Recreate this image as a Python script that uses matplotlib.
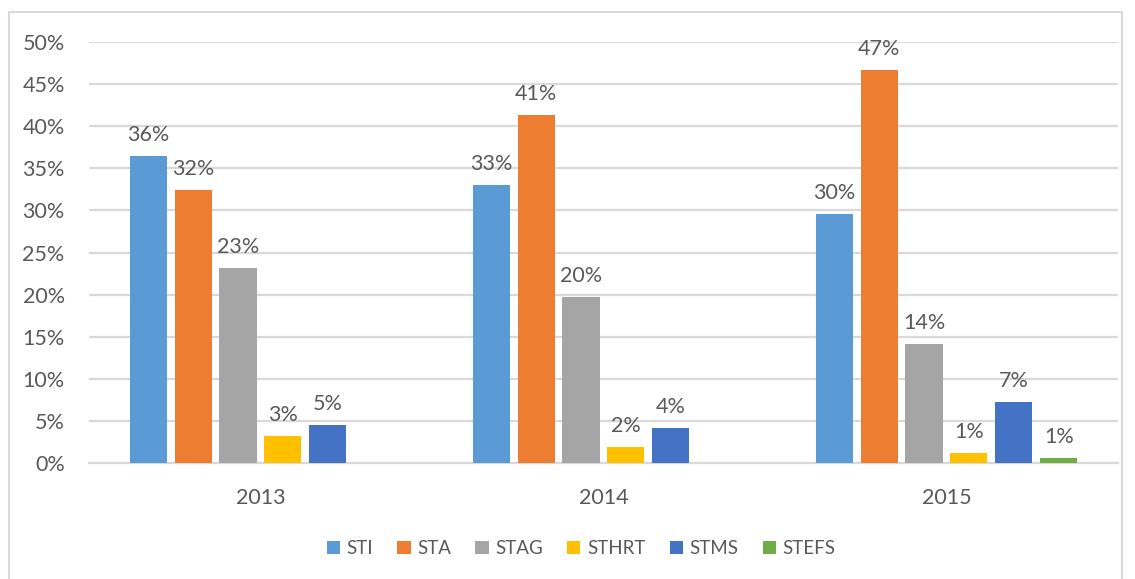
import numpy as np
import matplotlib.pyplot as plt
from matplotlib.patches import Rectangle

plt.rcParams["font.family"] = ["Lato", "DejaVu Sans"]

years = ["2013", "2014", "2015"]
series = ["STI", "STA", "STAG", "STHRT", "STMS", "STEFS"]
sti = [36.4, 33.0, 29.6]
sta = [32.4, 41.3, 46.6]
stag = [23.2, 19.7, 14.2]
sthrt = [3.3, 1.9, 1.3]
stms = [4.6, 4.2, 7.3]
stefs = [0.0, 0.0, 0.7]
colors = ["#5B9BD5", "#ED7D31", "#A5A5A5", "#FFC000", "#4472C4", "#70AD47"]

values = [sti, sta, stag, sthrt, stms, stefs]
text_color = "#595959"
grid_color = "#D9D9D9"

fig = plt.figure(figsize=(11.35, 5.79), dpi=100)
ax = fig.add_axes([0.0784, 0.1995, 0.9066, 0.7285])

x = np.arange(len(years))
step = 0.131
width = 0.108
for i, (name, vals, c) in enumerate(zip(series, values, colors)):
    pos = x + (i - 2.5) * step
    ax.bar(pos, vals, width=width, color=c, label=name, zorder=3)
    for p, v in zip(pos, vals):
        if v > 0:
            ax.text(p, v + 1.3, f"{v:.0f}%", ha="center", va="bottom",
                    fontsize=15.5, color=text_color)

ax.set_xlim(-0.5, 2.5)
ax.set_ylim(0, 50)
ax.set_yticks(np.arange(0, 51, 5))
ax.set_yticklabels([f"{t}%" for t in range(0, 51, 5)])
ax.set_xticks(x)
ax.set_xticklabels(years)
ax.tick_params(axis="y", length=0, pad=17.5, labelsize=15.5, labelcolor=text_color)
ax.tick_params(axis="x", length=0, pad=18, labelsize=15.5, labelcolor=text_color)
ax.grid(axis="y", color=grid_color, lw=1.6, zorder=0)
for s in ["top", "right", "left"]:
    ax.spines[s].set_visible(False)
ax.spines["bottom"].set_color(grid_color)
ax.spines["bottom"].set_linewidth(1.6)

fig.legend(loc="center", bbox_to_anchor=(0.512, 0.052), ncol=6, frameon=False,
           fontsize=13.5, handlelength=0.7, handleheight=0.7, handletextpad=0.35,
           columnspacing=1.3, labelcolor=text_color)

border = Rectangle((9 / 1135, -0.01), 1113 / 1135, 1 - 12 / 579 + 0.01,
                   transform=fig.transFigure, fill=False, ec="#D9D9D9", lw=1.5)
fig.patches.append(border)

fig.savefig("out.png", dpi=100)
plt.close(fig)
